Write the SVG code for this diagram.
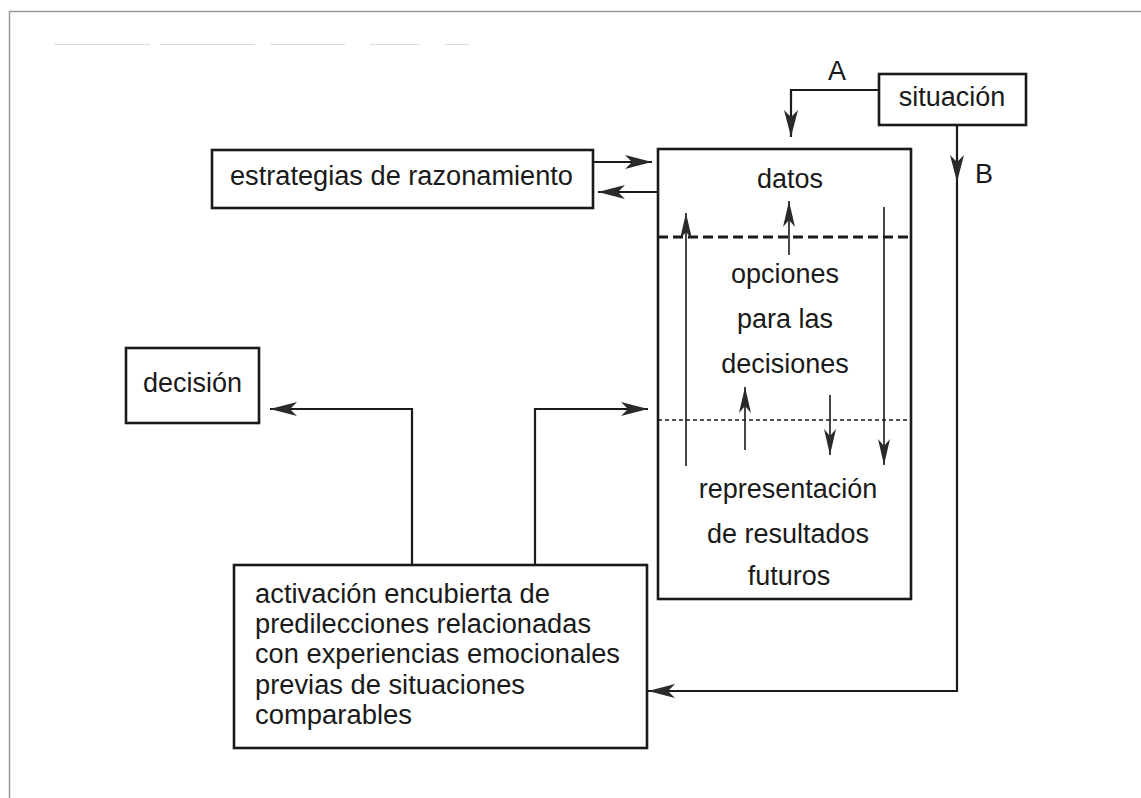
<svg xmlns="http://www.w3.org/2000/svg" width="1141" height="798" viewBox="0 0 1141 798">
<style>
  .box{fill:#fff;stroke:#1a1a1a;stroke-width:2.6}
  .t{font-family:"Liberation Sans",Arial,sans-serif;font-size:27px;fill:#1a1a1a}
  .c{text-anchor:middle}
  .conn{fill:none;stroke:#1a1a1a;stroke-width:2.2}
  .thin{fill:none;stroke:#1a1a1a;stroke-width:1.6}
</style>
<defs>
  <marker id="ah" viewBox="-30 -10 32 20" refX="0" refY="0" markerWidth="32" markerHeight="20" markerUnits="userSpaceOnUse" orient="auto">
    <path d="M0,0 L-27,-7 L-20,0 L-27,7 Z" fill="#2a2a2a"/>
  </marker>
  <marker id="ahs" viewBox="-30 -10 32 20" refX="0" refY="0" markerWidth="32" markerHeight="20" markerUnits="userSpaceOnUse" orient="auto">
    <path d="M0,0 L-26,-6 L-19,0 L-26,6 Z" fill="#2a2a2a"/>
  </marker>
</defs>
<rect width="1141" height="798" fill="#fff"/>
<g id="page-frame">
  <path d="M9.5,798 V11.5 H1141" fill="none" stroke="#999" stroke-width="1.5"/>
  <path d="M54,44.5 H150 M160,44.5 H255 M270,44.5 H345 M370,44.5 H420 M445,44.5 H469" stroke="#dcdcdc" stroke-width="1"/>
</g>
<g id="connectors">
  <path class="conn" d="M879,90 H791 V137" marker-end="url(#ah)"/>
  <text class="t" x="837" y="80" text-anchor="middle" font-size="28">A</text>
  <path class="conn" d="M957,125 V182" marker-end="url(#ah)"/>
  <path class="conn" d="M957,182 V691 H648" marker-end="url(#ah)"/>
  <text class="t" x="984" y="183" text-anchor="middle" font-size="28">B</text>
  <path class="conn" d="M593,162 H652" marker-end="url(#ah)"/>
  <path class="conn" d="M658,192 H598" marker-end="url(#ah)"/>
  <path class="conn" d="M412,565 V409 H270" marker-end="url(#ah)"/>
  <path class="conn" d="M535,565 V409 H648" marker-end="url(#ah)"/>
</g>
<g id="situacion">
  <rect class="box" x="879" y="74" width="147" height="51"/>
  <text class="t c" x="952" y="106">situación</text>
</g>
<g id="estrategias">
  <rect class="box" x="212" y="150" width="381" height="58"/>
  <text class="t" x="230" y="185" textLength="343" lengthAdjust="spacingAndGlyphs">estrategias de razonamiento</text>
</g>
<g id="memoria">
  <rect class="box" x="658" y="149" width="253" height="450"/>
  <line x1="658" y1="237" x2="911" y2="237" stroke="#1a1a1a" stroke-width="3" stroke-dasharray="10,5"/>
  <line x1="658" y1="420" x2="911" y2="420" stroke="#1a1a1a" stroke-width="1.5" stroke-dasharray="4,3"/>
  <text class="t c" x="790" y="188">datos</text>
  <text class="t c" x="785" y="283">opciones</text>
  <text class="t c" x="785" y="328">para las</text>
  <text class="t c" x="785" y="373">decisiones</text>
  <text class="t c" x="788" y="498">representación</text>
  <text class="t c" x="788" y="543">de resultados</text>
  <text class="t c" x="789" y="585">futuros</text>
  <path class="thin" d="M686,466 V213" marker-end="url(#ahs)"/>
  <path class="thin" d="M789,255 V201" marker-end="url(#ahs)"/>
  <path class="thin" d="M884,207 V465" marker-end="url(#ahs)"/>
  <path class="thin" d="M745,450 V387" marker-end="url(#ahs)"/>
  <path class="thin" d="M830,395 V455" marker-end="url(#ahs)"/>
</g>
<g id="decision">
  <rect class="box" x="126" y="348" width="133" height="75"/>
  <text class="t" x="143" y="392">decisión</text>
</g>
<g id="activacion">
  <rect class="box" x="234" y="565" width="413" height="183"/>
  <text class="t" x="255" y="603" textLength="295" lengthAdjust="spacingAndGlyphs">activación encubierta de</text>
  <text class="t" x="255" y="633" textLength="336" lengthAdjust="spacingAndGlyphs">predilecciones relacionadas</text>
  <text class="t" x="255" y="663" textLength="365" lengthAdjust="spacingAndGlyphs">con experiencias emocionales</text>
  <text class="t" x="255" y="694" textLength="270" lengthAdjust="spacingAndGlyphs">previas de situaciones</text>
  <text class="t" x="255" y="724" textLength="157" lengthAdjust="spacingAndGlyphs">comparables</text>
</g>
</svg>
